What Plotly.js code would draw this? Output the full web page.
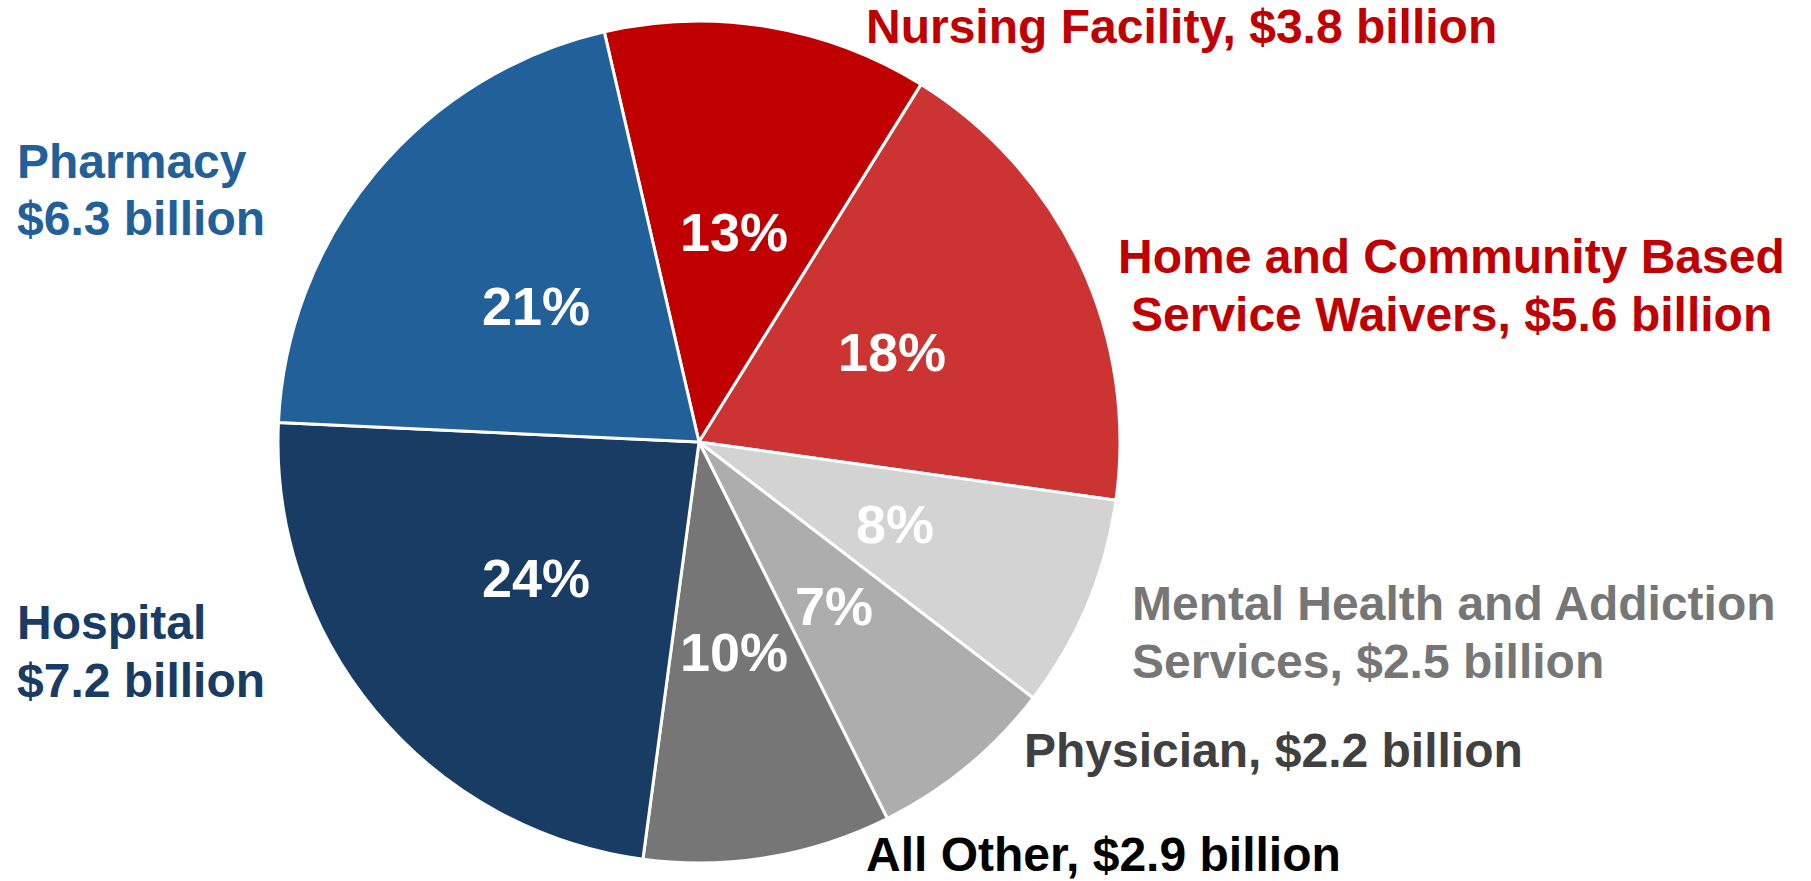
<!DOCTYPE html>
<html>
<head>
<meta charset="utf-8">
<script src="https://cdn.plot.ly/plotly-3.0.1.min.js"></script>
<style>html,body{margin:0;padding:0;background:#fff;}#chart{width:1811px;height:881px;}</style>
</head>
<body>
<div id="chart"></div>
<script>
// Data (clockwise from the top)
var categories = ['Nursing Facility', 'Home and Community Based Service Waivers', 'Mental Health and Addiction Services', 'Physician', 'All Other', 'Hospital', 'Pharmacy'];
var spendingBillions = [3.8, 5.6, 2.5, 2.2, 2.9, 7.2, 6.3];
var percentLabels = ['13%', '18%', '8%', '7%', '10%', '24%', '21%'];
var sliceColors = ['#C00000', '#CC3333', '#D3D3D3', '#ADADAD', '#767676', '#183C64', '#22609A'];

// Outside label lines
var labelLines = [
  ['Nursing Facility, $3.8 billion'],
  ['Home and Community Based', 'Service Waivers, $5.6 billion'],
  ['Mental Health and Addiction', 'Services, $2.5 billion'],
  ['Physician, $2.2 billion'],
  ['All Other, $2.9 billion'],
  ['Hospital', '$7.2 billion'],
  ['Pharmacy', '$6.3 billion']
];
var labelColors = ['#C00000', '#C00000', '#767676', '#404040', '#000000', '#183C64', '#22609A'];

var W = 1811, H = 881;
var ROTATION = -13;
// pie placement in pixels: left, right, top, bottom
var pieBox = [278, 1120, 21, 863];
// label layout: [x px, anchor, first baseline px, line spacing px]
var labelPlacement = [
  [865, 'left', 43, 0],
  [1451, 'center', 273, 58],
  [1131, 'left', 620, 58],
  [1023, 'left', 767, 0],
  [865, 'left', 871, 0],
  [16, 'left', 639, 58],
  [16, 'left', 178, 58]
];

var LABEL_FONT = 'Liberation Sans, Arial, sans-serif';
var PCT_FONT = 'Liberation Sans, Arial, sans-serif';
var annotations = [];
labelLines.forEach(function (lines, i) {
  var p = labelPlacement[i];
  lines.forEach(function (t, j) {
    var baseline = p[2] + j * p[3];
    annotations.push({
      text: '<b>' + t + '</b>',
      xref: 'paper', yref: 'paper',
      x: p[0] / W, y: 1 - (baseline - 17) / H,
      xanchor: p[1], yanchor: 'middle',
      showarrow: false,
      borderpad: 0,
      font: {family: LABEL_FONT, size: 48, color: labelColors[i]}
    });
  });
});

// percent labels at half radius along each slice's mid-angle
var total = spendingBillions.reduce(function (a, b) { return a + b; }, 0);
var cx = (pieBox[0] + pieBox[1]) / 2, cy = (pieBox[2] + pieBox[3]) / 2;
var R = Math.min(pieBox[1] - pieBox[0], pieBox[3] - pieBox[2]) / 2;
var cum = 0;
spendingBillions.forEach(function (v, i) {
  var mid = (ROTATION + (cum + v / 2) / total * 360) * Math.PI / 180;
  cum += v;
  var px = cx + 0.505 * R * Math.sin(mid);
  var py = cy - 0.505 * R * Math.cos(mid);
  annotations.push({
    text: '<b>' + percentLabels[i] + '</b>',
    xref: 'paper', yref: 'paper',
    x: px / W, y: 1 - py / H,
    xanchor: 'center', yanchor: 'middle',
    showarrow: false,
    font: {family: PCT_FONT, size: 54, color: '#FFFFFF'}
  });
});

var trace = {
  type: 'pie',
  labels: categories,
  values: spendingBillions,
  textinfo: 'none',
  sort: false,
  direction: 'clockwise',
  rotation: ROTATION,
  marker: {colors: sliceColors, line: {color: '#FFFFFF', width: 3}},
  hoverinfo: 'label+value+percent',
  domain: {x: [pieBox[0] / W, pieBox[1] / W], y: [(H - pieBox[3]) / H, (H - pieBox[2]) / H]}
};

var layout = {
  width: W, height: H,
  margin: {l: 0, r: 0, t: 0, b: 0},
  paper_bgcolor: '#FFFFFF',
  showlegend: false,
  annotations: annotations,
  font: {family: PCT_FONT}
};

Plotly.newPlot('chart', [trace], layout, {displayModeBar: false, staticPlot: true});
</script>
</body>
</html>
